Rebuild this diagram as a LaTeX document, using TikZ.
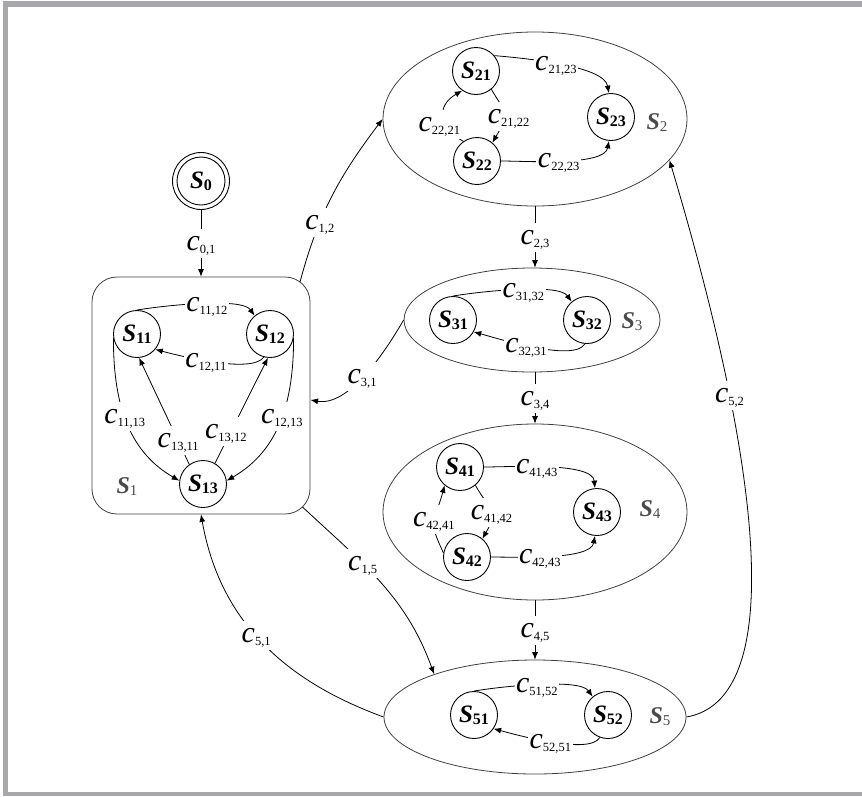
\documentclass[tikz,border=0pt]{standalone}
\usepackage{fontspec}
\setmainfont{Liberation Serif}
\usetikzlibrary{arrows.meta,shapes.geometric}
\definecolor{framec}{HTML}{A8A8AC}
\definecolor{grpc}{HTML}{4A4A4A}
\newcommand\cc[1]{{\fontsize{30}{30}\selectfont\itshape c}\raisebox{-3pt}{\fontsize{12.5}{12.5}\selectfont #1}}
\newcommand\stt[1]{{\fontsize{25}{25}\selectfont\bfseries\itshape S}\raisebox{-2pt}{\fontsize{16}{16}\selectfont\bfseries #1}}
\newcommand\grl[1]{{\color{grpc}{\fontsize{24}{24}\selectfont\bfseries\itshape S}\raisebox{-2pt}{\fontsize{15}{15}\selectfont #1}}}
\begin{document}
\begin{tikzpicture}[x=1pt,y=1pt,
  st/.style={circle,draw,line width=0.9pt,minimum size=47pt,inner sep=0pt},
  grp/.style={ellipse,draw=black!75,line width=0.8pt,inner sep=0pt},
  lbl/.style={fill=white,inner sep=1.5pt,text height=20pt,text depth=6pt},
  arr/.style={line width=0.8pt,-{Latex[length=7.5pt,width=6pt]}},
  glab/.style={inner sep=0pt}]
\useasboundingbox (0,0) rectangle (862,-796);
% frame
\fill[framec] (3,-1) rectangle (862,-7);
\fill[framec] (3,-1) rectangle (8,-796);
\fill[framec] (3,-792) rectangle (862,-796);
% groups
\node[draw=black!75,line width=0.8pt,rounded corners=25pt,minimum width=218pt,minimum height=237pt] (g1) at (201,-395.5) {};
\node[grp,minimum width=304pt,minimum height=174pt] (g2) at (535,-119) {};
\node[grp,minimum width=256pt,minimum height=104pt] (g3) at (532,-320) {};
\node[grp,minimum width=304pt,minimum height=176pt] (g4) at (535,-512) {};
\node[grp,minimum width=302pt,minimum height=114pt] (g5) at (535,-717) {};
% group labels
\node[glab] (l1) at (127,-487) {\grl{1}};
\node[glab] (l2) at (657,-123) {\grl{2}};
\node[glab] (l3) at (632,-322) {\grl{3}};
\node[glab] (l4) at (650,-510) {\grl{4}};
\node[glab] (l5) at (660,-717) {\grl{5}};
% states
\node[circle,draw,line width=0.9pt,minimum size=57pt,inner sep=0pt] (s0o) at (201,-181) {};
\node[st,minimum size=48pt] (s0) at (201,-181) {\stt{0}};
\node[st] (s11) at (137,-334) {\stt{11}};
\node[st] (s12) at (270,-334) {\stt{12}};
\node[st] (s13) at (203,-484) {\stt{13}};
\node[st] (s21) at (476,-71) {\stt{21}};
\node[st] (s22) at (477,-161) {\stt{22}};
\node[st] (s23) at (611,-117) {\stt{23}};
\node[st] (s31) at (453,-320) {\stt{31}};
\node[st] (s32) at (587,-320) {\stt{32}};
\node[st] (s41) at (460,-467) {\stt{41}};
\node[st] (s42) at (467,-557) {\stt{42}};
\node[st] (s43) at (597,-512) {\stt{43}};
\node[st] (s51) at (474,-715) {\stt{51}};
\node[st] (s52) at (608,-715) {\stt{52}};
% helper coordinates on the S1 box border
\coordinate (c12s) at (300,-282);
\coordinate (c15s) at (302.5,-507);
\coordinate (c31e) at (310.5,-400);
% top-level edges
\draw[arr] (s0o.south) -- node[lbl]{\cc{0,1}} (g1.north);
\draw[arr] (g2.south) -- node[lbl]{\cc{2,3}} (g2.south |- g3.north);
\draw[arr] (g3.south -| g4.north) -- node[lbl]{\cc{3,4}} (g4.north);
\draw[arr] (g4.south) -- node[lbl]{\cc{4,5}} (g5.north);
\draw[arr] (c12s) to[out=75,in=-127] node[lbl,pos=0.33]{\cc{1,2}} (g2.west);
\draw[arr] (g3.west) to[out=-120,in=-10,looseness=0.8] node[lbl,pos=0.52]{\cc{3,1}} (c31e);
\draw[arr] (c15s) to[out=-43,in=110] node[lbl,pos=0.37]{\cc{1,5}} (g5.157);
\draw[arr] (g5.west) to[out=160,in=-80] node[lbl,pos=0.53]{\cc{5,1}} (g1.south);
\draw[arr] (g5.east) .. controls (785,-700) and (765,-480) .. (g2.-17.5) node[lbl,pos=0.73]{\cc{5,2}};
% S1 internal
\draw[arr] (s11.north) to[out=10,in=125,looseness=0.5] node[lbl,pos=0.55]{\cc{11,12}} (s12.130);
\draw[arr] (s12.-105) to[out=-125,in=-15,looseness=0.5] node[lbl,pos=0.55]{\cc{12,11}} (s11.-40);
\draw[arr] (s11.190) to[out=-90,in=150] node[lbl,pos=0.47]{\cc{11,13}} (s13.172);
\draw[arr] (s12.-10) to[out=-90,in=30] node[lbl,pos=0.47]{\cc{12,13}} (s13.8);
\draw[arr] (s13.125) -- node[lbl,pos=0.22]{\cc{13,11}} (s11.-85);
\draw[arr] (s13.60) -- node[lbl,pos=0.3,xshift=-5pt]{\cc{13,12}} (s12.-95);
% S2 internal
\draw[arr] (s21.40) to[out=-5,in=100,looseness=0.6] node[lbl,pos=0.47]{\cc{21,23}} (s23.95);
\draw[arr] (s22.east) to[out=0,in=-100,looseness=0.6] node[lbl,pos=0.47]{\cc{22,23}} (s23.-95);
\draw[arr] (s21.-50) to[out=-60,in=60,looseness=2] node[lbl,xshift=1pt]{\cc{21,22}} (s22.50);
\draw[arr] (s22.125) to[out=150,in=-150,looseness=1.5] node[lbl,pos=0.35,xshift=-6pt]{\cc{22,21}} (s21.-125);
% S3 internal
\draw[arr] (s31.north) to[out=10,in=125,looseness=0.5] node[lbl,pos=0.55]{\cc{31,32}} (s32.130);
\draw[arr] (s32.-95) to[out=-120,in=-15,looseness=0.5] node[lbl,pos=0.55]{\cc{32,31}} (s31.-30);
% S4 internal
\draw[arr] (s41.east) to[out=0,in=95,looseness=0.6] node[lbl,pos=0.42]{\cc{41,43}} (s43.95);
\draw[arr] (s42.east) to[out=0,in=-100,looseness=0.6] node[lbl,pos=0.42]{\cc{42,43}} (s43.-95);
\draw[arr] (s41.-50) to[out=-60,in=60,looseness=1.6] node[lbl]{\cc{41,42}} (s42.50);
\draw[arr] (s42.170) to[out=115,in=-105,looseness=1.5] node[lbl]{\cc{42,41}} (s41.-130);
% S5 internal
\draw[arr] (s51.north) to[out=10,in=125,looseness=0.5] node[lbl,pos=0.5]{\cc{51,52}} (s52.130);
\draw[arr] (s52.-110) to[out=-120,in=-15,looseness=0.5] node[lbl,pos=0.5]{\cc{52,51}} (s51.-35);
\end{tikzpicture}
\end{document}
